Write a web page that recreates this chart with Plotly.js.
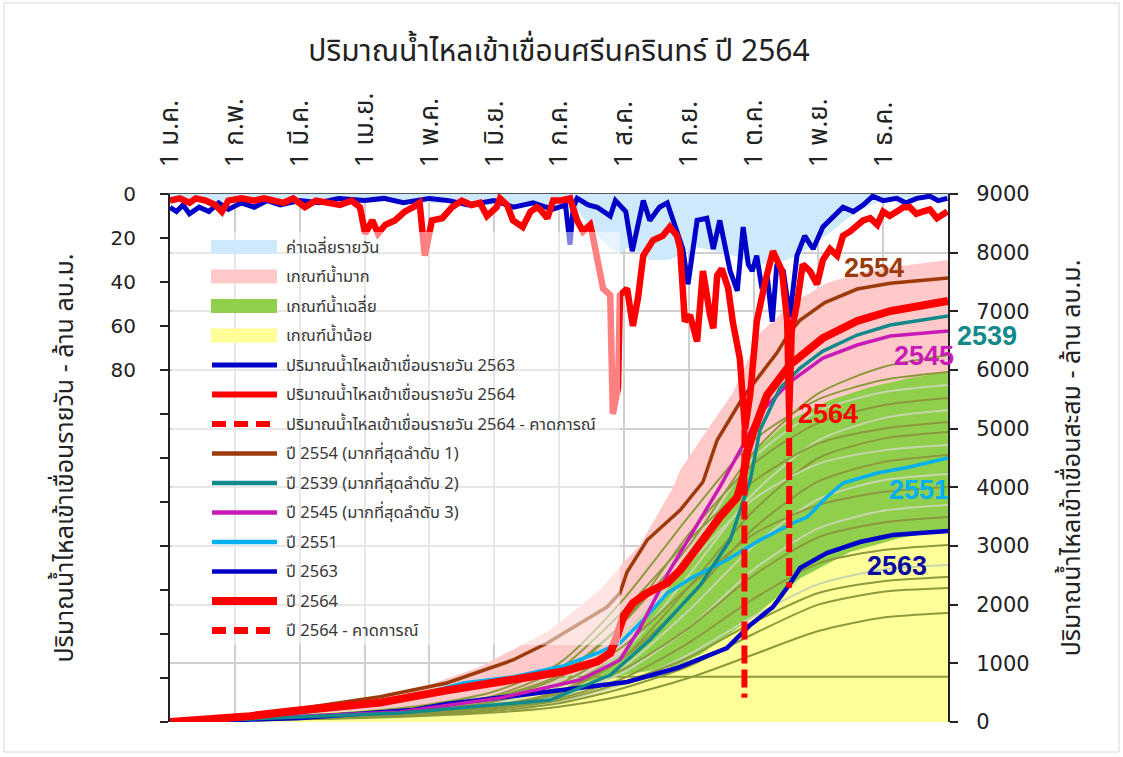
<!DOCTYPE html>
<html><head><meta charset="utf-8">
<script src="https://cdn.plot.ly/plotly-3.0.1.min.js"></script>
<style>html,body{margin:0;padding:0;background:#fff}#chart{width:1123px;height:757px}</style>
</head><body><div id="chart"></div>
<script>
// ---------- DATA ----------
const monthLabels = ['1 ม.ค.','1 ก.พ.','1 มี.ค.','1 เม.ย.','1 พ.ค.','1 มิ.ย.','1 ก.ค.','1 ส.ค.','1 ก.ย.','1 ต.ค.','1 พ.ย.','1 ธ.ค.'];
const monthTicks = [0,1,2,3,4,5,6,7,8,9,10,11];
const leftTickVals = [0,20,40,60,80,100,120,140,160,180,200,220,240];
const leftTickText = ['0','20','40','60','80','','','','','','','',''];
const rightTickVals = [0,1000,2000,3000,4000,5000,6000,7000,8000,9000];

// daily average (left axis, million m3/day)
const avgX = [0,1,2,3,4,5,5.8,6.3,6.5,6.7,6.9,7.1,7.4,7.7,7.9,8.1,8.4,8.7,9.0,9.3,9.6,9.9,10.2,10.5,10.8,11.1,11.5,12];
const avgY = [4,3,3,3,4,5,6,8,16,22,27,24,30,30,27,24,26,28,31,32,29,24,17,10,5,2,2,2];

// daily inflow 2563
const d2563X = [0,0.1,0.2,0.3,0.45,0.6,0.75,0.9,1.1,1.3,1.5,1.7,2.0,2.3,2.6,3.0,3.3,3.6,4.0,4.3,4.6,5.0,5.3,5.6,5.9,6.1,6.17,6.22,6.28,6.45,6.59,6.79,6.87,6.94,7.03,7.13,7.30,7.40,7.55,7.67,7.76,7.91,7.99,8.13,8.28,8.38,8.48,8.64,8.75,8.84,8.92,8.98,9.05,9.13,9.21,9.29,9.36,9.46,9.56,9.67,9.79,9.92,10.07,10.23,10.38,10.54,10.69,10.84,11.0,11.21,11.35,11.52,11.72,11.85,11.99];
const d2563Y = [6,8,5,9,6,8,4,7,4,6,3,5,3,4,2,3,2,4,2,3,5,3,6,4,7,5,23,6,2,5,6,10,3,5,8,26,3,12,6,4,12,25,41,12,11,25,12,35,44,15,32,35,28,43,37,58,32,35,56,28,19,25,15,10,6,8,5,1,3,2,4,2,1,3,2];

// daily inflow 2564
const d2564X = [0,0.15,0.3,0.4,0.55,0.7,0.8,0.9,1.1,1.3,1.45,1.57,1.75,1.9,2.08,2.25,2.45,2.62,2.8,2.93,3.01,3.12,3.21,3.32,3.47,3.62,3.75,3.85,3.93,4.04,4.20,4.35,4.50,4.65,4.78,4.89,5.04,5.09,5.20,5.29,5.44,5.56,5.66,5.71,5.82,5.91,6.02,6.17,6.28,6.37,6.48,6.52,6.68,6.79,6.83,6.91,6.94,7.05,7.14,7.22,7.30,7.45,7.60,7.71,7.82,7.87,7.94,8.02,8.13,8.22,8.33,8.38,8.44,8.51,8.61,8.68,8.79,8.84,8.87,8.95,9.05,9.18,9.30,9.44,9.52,9.55,9.59,9.67,9.76,9.87,9.98,10.07,10.18,10.29,10.38,10.49,10.60,10.69,10.80,10.91,11.00,11.1,11.21,11.31,11.41,11.51,11.61,11.72,11.83,11.99];
const d2564Y = [3,2,4,2,3,5,8,3,2,3,2,3,4,2,6,3,4,5,3,6,18,12,18,14,12,8,6,4,28,12,11,6,3,5,4,10,6,2,5,12,15,8,6,7,11,3,3,2,12,17,14,19,43,46,100,88,46,43,60,47,28,21,19,15,19,25,58,55,67,35,55,61,37,34,43,58,75,94,107,91,58,40,26,35,58,100,62,50,32,35,41,30,25,28,19,17,14,12,11,14,8,10,8,6,6,9,8,7,11,8];

// daily forecast 2564
const f2564X = [8.86,8.86,null,9.55,9.55];
const f2564Y = [107,229,null,100,179];

// cumulative criteria bands (right axis, million m3)
const highX = [0,2.01,3.55,4.78,5.86,6.63,6.94,7.25,7.76,7.87,8.18,8.68,9.10,9.61,10.13,10.64,11.15,12];
const highY = [0,170,460,937,1568,2250,2650,3017,4000,4295,4807,5608,6630,7142,7483,7653,7755,7875];
const midX = [0,3.55,5.09,6.02,6.94,7.56,8.18,8.95,9.56,10.18,10.80,11.41,12];
const midY = [0,136,324,580,1142,2079,3102,4551,5147,5488,5710,5863,5966];
const lowX = [0,3.55,6.02,6.94,7.8,8.18,8.95,9.72,10.49,11.26,12];
const lowY = [0,239,614,784,950,1150,1750,2450,2898,3136,3273];

// historical years (monthly cumulative)
const histMonths = [0,1,2,3,4,5,6,7,8,9,10,11,12];
const hist01 = [0,40,90,150,250,420,800,1700,3000,4600,5600,6050,6250];
const hist02 = [0,50,110,180,300,520,1000,2100,3500,4800,5500,5830,5966];
const hist03 = [0,30,70,120,200,330,600,1400,2900,4500,5300,5620,5744];
const hist04 = [0,40,80,140,230,400,760,1700,3200,4400,5100,5400,5522];
const hist05 = [0,35,75,120,190,300,520,1200,2500,3900,4800,5180,5318];
const hist06 = [0,45,100,160,260,450,900,1900,3100,4100,4750,5000,5113];
const hist07 = [0,30,60,100,160,260,480,1100,2300,3600,4500,4830,4943];
const hist08 = [0,40,85,140,220,380,700,1500,2700,3800,4400,4630,4721];
const hist09 = [0,35,70,110,170,280,520,1100,2100,3300,4100,4430,4551];
const hist10 = [0,30,65,100,160,260,450,950,1900,3000,3800,4120,4227];
const hist11 = [0,40,80,130,210,350,650,1300,2300,3200,3700,3920,4005];
const hist12 = [0,25,55,90,140,230,420,850,1600,2600,3300,3600,3699];
const hist13 = [0,35,70,110,170,270,480,900,1600,2500,3150,3400,3494];
const hist14 = [0,30,60,95,150,240,400,750,1350,2100,2700,2930,3017];
const hist15 = [0,25,55,85,130,210,350,650,1150,1800,2350,2600,2676];
const hist16 = [0,30,60,90,140,220,370,680,1100,1700,2200,2400,2471];
const hist17 = [0,25,50,80,120,190,320,580,950,1500,2000,2220,2284];
const hist18 = [0,20,45,70,105,160,260,450,750,1150,1550,1780,1858];
const histAll = [hist01,hist02,hist03,hist04,hist05,hist06,hist07,hist08,hist09,hist10,hist11,hist12,hist13,hist14,hist15,hist16,hist17,hist18];
const histTone = ['o','o','p','o','p','o','o','p','o','p','o','p','o','o','p','o','o','o'];
const flatX = [6.0,12];
const flatY = [770,770];

// highlighted years (cumulative)
const y2551X = [0,2.01,3.55,4.52,5.29,6.06,6.59,6.94,7.30,7.67,8.07,8.59,9.10,9.61,9.83,10.13,10.38,10.91,11.41,12];
const y2551Y = [0,153,375,665,767,954,1176,1347,1738,2199,2471,2761,3102,3392,3494,3835,4074,4244,4346,4500];
const y2563X = [0,2.01,3.75,4.27,5.29,6.32,7.05,7.82,8.59,8.95,9.30,9.56,9.72,10.13,10.64,11.15,12];
const y2563Y = [0,68,205,307,443,580,682,920,1261,1653,1960,2352,2625,2880,3068,3187,3255];
const y2545X = [0,3.55,5.09,6.32,6.94,7.25,7.71,8.18,8.48,8.84,9.10,9.56,10.07,10.60,11.11,12];
const y2545Y = [0,170,409,716,1057,1602,2591,3443,4005,4721,5267,5795,6204,6426,6579,6664];
const y2539X = [0,3.55,5.86,6.79,7.40,8.18,8.64,8.95,9.10,9.41,9.72,10.07,10.60,11.11,12];
const y2539Y = [0,153,375,801,1398,2335,3102,4125,4977,5693,6034,6323,6596,6767,6920];
const y2554X = [0,1.23,2.01,2.93,3.24,4.27,5.29,5.82,6.32,6.74,6.94,7.05,7.36,7.87,8.22,8.44,8.84,9.36,9.56,9.72,10.1,10.6,11.11,12];
const y2554Y = [0,120,230,390,430,665,1057,1347,1687,1960,2199,2557,3102,3613,4091,4807,5540,6289,6650,6850,7150,7380,7480,7568];
const y2564X = [0,1.23,2.01,3.24,4.27,5.29,6.06,6.59,6.79,6.89,6.99,7.14,7.36,7.67,7.87,8.07,8.33,8.48,8.75,8.84,8.90,8.99,9.21,9.56,10.07,10.60,11.11,12];
const y2564Y = [0,100,200,330,540,740,860,1030,1176,1449,1790,2028,2199,2369,2591,2880,3273,3494,3835,4176,4585,4926,5574,6085,6545,6835,7005,7176];

// series labels
const seriesLabels = ['2554','2539','2545','2564','2551','2563'];

const legendLabels = ['ค่าเฉลี่ยรายวัน','เกณฑ์น้ำมาก','เกณฑ์น้ำเฉลี่ย','เกณฑ์น้ำน้อย',
 'ปริมาณน้ำไหลเข้าเขื่อนรายวัน 2563','ปริมาณน้ำไหลเข้าเขื่อนรายวัน 2564','ปริมาณน้ำไหลเข้าเขื่อนรายวัน 2564 - คาดการณ์',
 'ปี 2554 (มากที่สุดลำดับ 1)','ปี 2539 (มากที่สุดลำดับ 2)','ปี 2545 (มากที่สุดลำดับ 3)','ปี 2551','ปี 2563','ปี 2564','ปี 2564 - คาดการณ์'];

// ---------- STYLE ----------
const C = {avg:'#cde9fa', high:'#ffc9c9', mid:'#8fcf4c', low:'#ffff99', d63:'#0000c8', red:'#ff0000',
  b54:'#9c3a0b', t39:'#12898a', m45:'#c81ab4', c51:'#00b0f0', b63:'#0000c8', olive:'#8c9a3e', pale:'#c6d5ac'};
const FONT = "Tahoma, 'Noto Sans Thai', 'Leelawadee UI', 'DejaVu Sans', sans-serif";
const L=170, R=948, T=194, B=722;
const pxX = v => (v-L)/(R-L);
const pxY = v => (B-v)/(B-T);

const traces = [];
const fillT = (x,y,c)=>({x,y,type:'scatter',mode:'lines',fill:'tozeroy',fillcolor:c,line:{width:0,color:c},yaxis:'y',hoverinfo:'skip',showlegend:false});
traces.push(fillT(highX,highY,C.high));
traces.push(fillT(midX,midY,C.mid));
traces.push(fillT(lowX,lowY,C.low));
traces.push({x:flatX,y:flatY,type:'scatter',mode:'lines',line:{color:C.olive,width:2},yaxis:'y',showlegend:false});
histAll.forEach((h,i)=>{
  traces.push({x:histMonths,y:h,type:'scatter',mode:'lines',line:{color:histTone[i]==='o'?C.olive:C.pale,width:2,shape:'spline',smoothing:0.7},yaxis:'y',showlegend:false});
});
const lineT=(x,y,c,w)=>({x,y,type:'scatter',mode:'lines',line:{color:c,width:w},yaxis:'y',showlegend:false});
traces.push(lineT(y2551X,y2551Y,C.c51,3.5));
traces.push(lineT(y2563X,y2563Y,C.b63,4.5));
traces.push(lineT(y2545X,y2545Y,C.m45,3.5));
traces.push(lineT(y2539X,y2539Y,C.t39,3.5));
traces.push(lineT(y2554X,y2554Y,C.b54,3.5));
traces.push(lineT(y2564X,y2564Y,C.red,8));
// daily (left axis, overlaying)
traces.push({x:avgX,y:avgY,type:'scatter',mode:'lines',fill:'tozeroy',fillcolor:C.avg,line:{width:0,color:C.avg},yaxis:'y2',showlegend:false});
traces.push({x:d2563X,y:d2563Y,type:'scatter',mode:'lines',line:{color:C.d63,width:5},yaxis:'y2',showlegend:false});
traces.push({x:d2564X,y:d2564Y,type:'scatter',mode:'lines',line:{color:C.red,width:6.5},yaxis:'y2',showlegend:false});
traces.push({x:f2564X,y:f2564Y,type:'scatter',mode:'lines',line:{color:C.red,width:6,dash:'18px,6px'},yaxis:'y2',showlegend:false,connectgaps:false});

// ---------- legend drawn as shapes + annotations ----------
const shapes = [];
const annotations = [];
shapes.push({type:'rect',xref:'paper',yref:'paper',x0:pxX(4),x1:pxX(1119),y0:pxY(3),y1:pxY(752),line:{color:'#d6d6d6',width:1},fillcolor:'rgba(0,0,0,0)',layer:'below'});
shapes.push({type:'rect',xref:'paper',yref:'paper',x0:pxX(172),x1:pxX(620),y0:pxY(232),y1:pxY(645),line:{width:0},fillcolor:'rgba(255,255,255,0.5)',layer:'above'});
const legKind = ['box','box','box','box','line','line','dash','line','line','line','line','line','line','dash'];
const legColor = [C.avg,C.high,C.mid,C.low,C.d63,C.red,C.red,C.b54,C.t39,C.m45,C.c51,C.b63,C.red,C.red];
const legWidth = [0,0,0,0,5,6,6,4.5,4.5,4.5,4.5,4.5,8,7];
legendLabels.forEach((lab,i)=>{
  const yc = 247 + 29.5*i;
  if(legKind[i]==='box'){
    shapes.push({type:'rect',xref:'paper',yref:'paper',x0:pxX(211),x1:pxX(277),y0:pxY(yc+7),y1:pxY(yc-7),fillcolor:legColor[i],line:{width:0},layer:'above'});
  } else {
    shapes.push({type:'line',xref:'paper',yref:'paper',x0:pxX(212),x1:pxX(277),y0:pxY(yc),y1:pxY(yc),line:{color:legColor[i],width:legWidth[i],dash:legKind[i]==='dash'?'14px,8px':'solid'},layer:'above'});
  }
  annotations.push({xref:'paper',yref:'paper',x:pxX(284),y:pxY(yc),xanchor:'left',yanchor:'middle',text:lab,showarrow:false,font:{family:FONT,size:16.5,color:'#383838'}});
});
const labColors = [C.b54,C.t39,C.m45,C.red,C.c51,'#0a0aa0'];
const labPx = [[874,268],[987,336],[924,356],[828,414],[919,490],[897,566]];
seriesLabels.forEach((t,i)=>{
  annotations.push({xref:'paper',yref:'paper',x:pxX(labPx[i][0]),y:pxY(labPx[i][1]),text:'<b>'+t+'</b>',showarrow:false,xanchor:'center',yanchor:'middle',font:{family:"'Liberation Sans', Arial, sans-serif",size:27,color:labColors[i]}});
});

const layout = {
  width:1123,height:757,
  margin:{l:L,r:1123-R,t:T,b:757-B,pad:0},
  paper_bgcolor:'#ffffff',plot_bgcolor:'#ffffff',
  showlegend:false,
  font:{family:FONT,color:'#222'},
  title:{text:'ปริมาณน้ำไหลเข้าเขื่อนศรีนครินทร์ ปี 2564',x:0.5,xanchor:'center',y:1-50/757,yanchor:'middle',xref:'paper',font:{family:FONT,size:30,color:'#222'}},
  xaxis:{side:'top',range:[0,12],tickvals:monthTicks,ticktext:monthLabels,tickangle:-90,showgrid:true,gridcolor:'#cfcfcf',gridwidth:2,
    showline:true,linecolor:'#555',linewidth:1.5,ticks:'',zeroline:false,tickfont:{family:FONT,size:26,color:'#222'},ticklabelstandoff:20,anchor:'y'},
  yaxis:{side:'right',range:[0,9000],tickvals:rightTickVals,showgrid:true,gridcolor:'#cfcfcf',gridwidth:2,zeroline:false,
    showline:true,linecolor:'#222',linewidth:2,ticks:'outside',ticklen:8,tickwidth:2,tickcolor:'#222',
    tickfont:{family:"'DejaVu Sans', sans-serif",size:21,color:'#222'},ticklabelstandoff:14,
    title:{text:'ปริมาณน้ำไหลเข้าเขื่อนสะสม - ล้าน ลบ.ม.',font:{family:FONT,size:25,color:'#222'},standoff:34}},
  yaxis2:{overlaying:'y',side:'left',range:[240,0],tickvals:leftTickVals,ticktext:leftTickText,showgrid:false,zeroline:false,
    showline:true,linecolor:'#222',linewidth:2,ticks:'outside',ticklen:8,tickwidth:2,tickcolor:'#222',
    tickfont:{family:"'DejaVu Sans', sans-serif",size:20,color:'#222'},ticklabelstandoff:20,
    title:{text:'ปริมาณน้ำไหลเข้าเขื่อนรายวัน - ล้าน ลบ.ม.',font:{family:FONT,size:25,color:'#222'},standoff:30}},
  shapes, annotations
};
Plotly.newPlot('chart',traces,layout,{staticPlot:true,displayModeBar:false});
</script></body></html>
